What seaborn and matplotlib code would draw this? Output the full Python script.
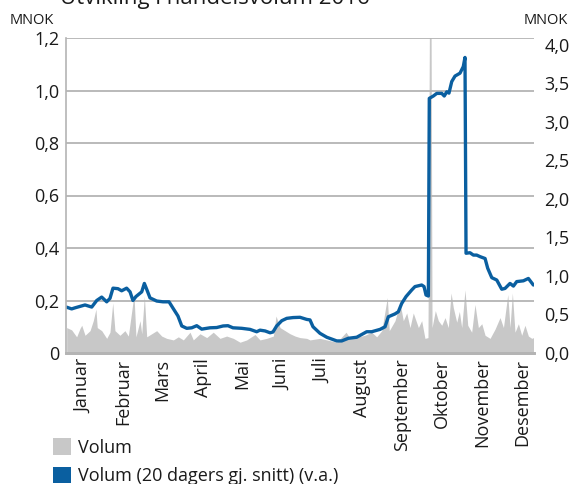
import matplotlib
matplotlib.use("Agg")
import matplotlib.pyplot as plt
from matplotlib.patches import Patch
import numpy as np
import pandas as pd
import seaborn as sns

# Månedsnavn (akse-etiketter)
months = ["Januar", "Februar", "Mars", "April", "Mai", "Juni", "Juli",
          "August", "September", "Oktober", "November", "Desember"]

# Daglig volum (MNOK, høyre akse) – dag i året
vol_day = [2.8, 6.6, 10.4, 13, 14.3, 16.8, 20.6, 23.1, 25.1, 26.1, 29.5, 33.3,
           35.8, 37.9, 39.6, 43.4, 47.2, 49.8, 54.1, 55.6, 58.7, 60, 62, 63.8,
           67.6, 71.4, 75.2, 79, 84.1, 87.9, 91.7, 96.8, 99.3, 104.4, 109.5,
           114.5, 119.6, 124.7, 129.8, 134.9, 140, 146.3, 150.1, 155.2, 160.3,
           162.3, 165.4, 169.2, 173, 176.8, 180.6, 185.7, 188.2, 195.8, 203.5,
           208.6, 215.7, 218.7, 225, 230.1, 235.2, 239, 242.9, 247.1, 248.6,
           253, 256.8, 259.3, 261.9, 264.4, 266.9, 270.8, 273.3, 275.8, 278.1,
           279.3, 280.4, 281.2, 283.7, 286, 288.6, 291.1, 293.6, 295.7, 297.4,
           300, 302, 303.8, 306.3, 308.4, 311.4, 313.9, 316.5, 319.1, 321.6,
           325.4, 329.2, 333, 335.6, 338.9, 340.6, 342.4, 344.4, 347, 349.5,
           352, 354.6, 357.2, 358.5]
vol_val = [0.33, 0.30, 0.21, 0.32, 0.36, 0.23, 0.29, 0.42, 0.57, 0.33, 0.29, 0.19,
           0.27, 0.65, 0.29, 0.23, 0.29, 0.22, 0.76, 0.21, 0.42, 0.25, 0.74, 0.21,
           0.25, 0.29, 0.22, 0.19, 0.17, 0.21, 0.17, 0.27, 0.17, 0.25, 0.20,
           0.27, 0.19, 0.22, 0.19, 0.14, 0.17, 0.24, 0.17, 0.19, 0.22,
           0.48, 0.33, 0.29, 0.25, 0.22, 0.20, 0.19, 0.17, 0.19, 0.16,
           0.14, 0.27, 0.19, 0.21, 0.23, 0.27, 0.21, 0.29, 0.72, 0.29,
           0.42, 0.65, 0.42, 0.52, 0.33, 0.52, 0.33, 0.42, 0.19, 0.20,
           4.60, 4.60, 0.33, 0.55, 0.42, 0.36, 0.46, 0.33, 0.78, 0.59,
           0.40, 0.54, 0.33, 0.82, 0.36, 0.27, 0.63, 0.33, 0.38, 0.23,
           0.19, 0.31, 0.46, 0.33, 0.76, 0.33, 0.78, 0.27, 0.38, 0.23,
           0.36, 0.22, 0.19, 0.20]

# 20 dagers glidende snitt (MNOK, venstre akse)
avg_day = [2.5, 6.6, 9.1, 16.8, 21.9, 25.7, 29.5, 33.3, 35.8, 38.1, 41.9, 44.7,
           48.5, 51.1, 53.3, 55.6, 60, 62, 64, 66.3, 71.4, 76.2, 80.8, 83.8,
           87.6, 90.5, 94.3, 98.1, 101.9, 105.7, 112, 117.1, 122, 125.7, 129.5,
           136.2, 142.5, 147.6, 150.1, 154, 157.8, 160, 162.8, 166.7, 170.5,
           175.3, 180.6, 185.7, 188.2, 190.5, 195.8, 201, 208.6, 212.4, 217.4,
           223.8, 231.4, 235.2, 241.6, 245.4, 247.9, 253, 255.5, 258.1, 261.4,
           265.7, 268.2, 273.3, 275.1, 276.6, 278.4, 279.1, 282.2, 284.8, 288.6,
           290.5, 292.4, 294.1, 296.2, 298.7, 302.5, 305, 306.3, 307.1, 310.1,
           312.7, 315.2, 317.8, 321.6, 323.6, 326.7, 330.5, 334.3, 336.8, 340.6,
           343.2, 345.7, 350.8, 354.6, 358.4]
avg_val = [0.175, 0.168, 0.172, 0.183, 0.175, 0.200, 0.213, 0.195, 0.208, 0.247,
           0.245, 0.237, 0.247, 0.233, 0.200, 0.215, 0.233, 0.265, 0.240, 0.210,
           0.198, 0.195, 0.195, 0.171, 0.141, 0.103, 0.094, 0.096, 0.104, 0.091,
           0.096, 0.097, 0.103, 0.104, 0.096, 0.094, 0.090, 0.081, 0.087, 0.084,
           0.077, 0.080, 0.103, 0.123, 0.132, 0.135, 0.136, 0.128, 0.126, 0.100,
           0.075, 0.060, 0.046, 0.046, 0.056, 0.060, 0.081, 0.081, 0.090, 0.100,
           0.138, 0.149, 0.157, 0.189, 0.215, 0.240, 0.253, 0.259, 0.253, 0.221,
           0.217, 0.970, 0.979, 0.989, 0.989, 0.979, 0.995, 0.990, 1.034, 1.055,
           1.066, 1.091, 1.126, 0.380, 0.382, 0.373, 0.373, 0.367, 0.360, 0.323,
           0.287, 0.278, 0.243, 0.246, 0.265, 0.255, 0.272, 0.275, 0.284, 0.259]

left_ticks = [0, 0.2, 0.4, 0.6, 0.8, 1.0, 1.2]
right_ticks = [0.0, 0.5, 1.0, 1.5, 2.0, 2.5, 3.0, 3.5, 4.0]

GREY = "#c8c8c8"
BLUE = "#0a5fa0"
GRID = "#b4b4b4"
TXT = "#1a1a1a"
FS = 13

sns.set_theme(style="white")
plt.rcParams["font.family"] = ["Open Sans", "DejaVu Sans"]

fig = plt.figure(figsize=(5.72, 4.84), dpi=100)
ax = fig.add_axes([66 / 572, 1 - 353 / 484, (533.5 - 66) / 572, (353 - 38) / 484])
ax2 = ax.twinx()

# Volum på høyre akse (tegnes under linjen)
ax2.fill_between(vol_day, 0, vol_val, color=GREY, lw=0)
ax2.set_ylim(0, 4.09)
ax2.set_yticks(right_ticks)
ax2.set_yticklabels([f"{v:.1f}".replace(".", ",") for v in right_ticks])

# Glidende snitt på venstre akse
df = pd.DataFrame({"dag": avg_day, "snitt": avg_val})
ax.set_zorder(ax2.get_zorder() + 1)
ax.patch.set_visible(False)
sns.lineplot(data=df, x="dag", y="snitt", ax=ax, color=BLUE, lw=2.4,
             estimator=None, sort=False)
ax.set_xlim(2.3, 358.5)
ax.set_ylim(0, 1.2)
ax.set_yticks(left_ticks)
ax.set_yticklabels(["0"] + [f"{v:.1f}".replace(".", ",") for v in left_ticks[1:]])
ax.yaxis.grid(True, color=GRID, lw=1.3)
ax.set_axisbelow(True)
ax.set_xlabel("")
ax.set_ylabel("")

mid_month = [15.2 + 30.4 * i for i in range(12)]
ax.set_xticks(mid_month)
ax.set_xticklabels(months, rotation=90)
ax2.set_xticks(mid_month)

for a in (ax, ax2):
    for s in ("top", "right"):
        a.spines[s].set_visible(False)
    a.spines["left"].set_color(GRID)
    a.spines["bottom"].set_color(GRID)
    a.spines["left"].set_linewidth(1.2)
    a.spines["bottom"].set_linewidth(2.0)
    a.tick_params(length=0, labelsize=FS, colors=TXT)
ax2.spines["left"].set_visible(False)
ax.tick_params(axis="y", pad=5)
ax.tick_params(axis="x", pad=4)
ax2.tick_params(axis="y", pad=8)

fig.text(10 / 572, 1 - 21 / 484, "MNOK", fontsize=10.5, color=TXT, va="center")
fig.text(568 / 572, 1 - 21 / 484, "MNOK", fontsize=10.5, color=TXT, va="center", ha="right")
fig.text(60 / 572, 1 - 4 / 484, "Utvikling i handelsvolum 2016", fontsize=16,
         color=TXT, va="baseline")

handles = [Patch(facecolor=GREY, edgecolor="none", label="Volum"),
           Patch(facecolor=BLUE, edgecolor="none", label="Volum (20 dagers gj. snitt) (v.a.)")]
fig.legend(handles=handles, loc="lower left", bbox_to_anchor=(46 / 572, -0.018),
           frameon=False, fontsize=FS, handlelength=1.0, handleheight=1.0,
           handletextpad=0.35, labelspacing=0.58, borderaxespad=0.0,
           labelcolor=TXT)

fig.savefig("out.png", dpi=100)
